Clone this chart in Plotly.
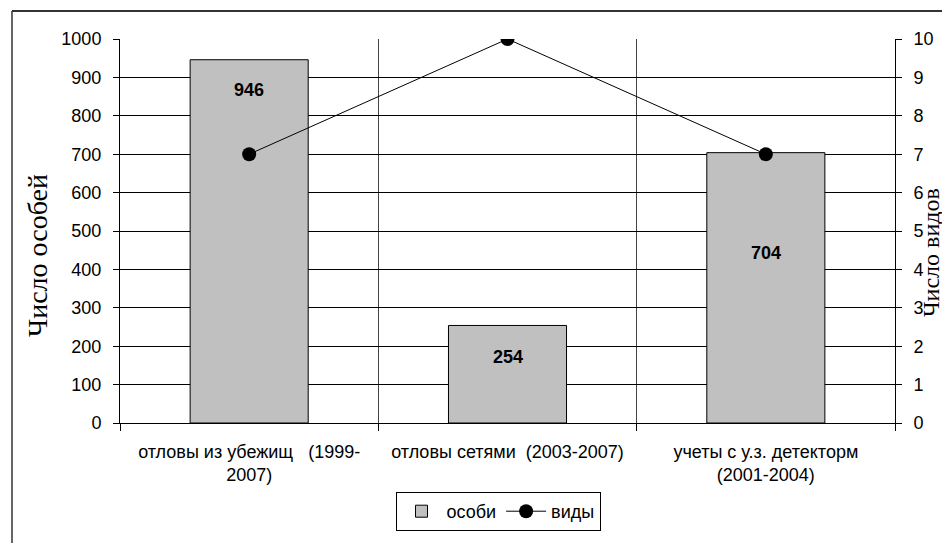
import plotly.graph_objects as go

categories = ["отловы из убежищ   (1999-<br>2007)", "отловы сетями  (2003-2007)", "учеты с у.з. детекторм<br>(2001-2004)"]
individuals = [946, 254, 704]
species = [7, 10, 7]
label_y = [867, 172, 443]

# the page body has an 8px margin, so the figure is placed at (8, 8)
W, H = 942, 535
L, T, PW, PH = 112, 31, 775, 384

def px(x):
    return (x - 8 - L) / PW

def py(y):
    return (T + PH - (y - 8)) / PH

fig = go.Figure()
fig.add_trace(go.Bar(x=categories, y=individuals, name="особи", width=0.457,
                     marker=dict(color="#c0c0c0", line=dict(color="black", width=1))))
fig.add_trace(go.Scatter(x=categories, y=species, name="виды", yaxis="y2", mode="lines+markers",
                         line=dict(color="black", width=1), marker=dict(color="black", size=14)))

for c, v, ly in zip(categories, individuals, label_y):
    fig.add_annotation(x=c, y=ly, text=f"<b>{v}</b>", showarrow=False,
                       font=dict(family="Liberation Sans, Arial", size=18, color="black"))

fig.add_annotation(xref="paper", yref="paper", x=px(37), y=py(256), text="Число особей",
                   textangle=-90, showarrow=False, xanchor="center", yanchor="middle",
                   font=dict(family="Liberation Serif, Times New Roman", size=28, color="black"))
fig.add_annotation(xref="paper", yref="paper", x=px(931), y=py(253), text="Число видов",
                   textangle=-90, showarrow=False, xanchor="center", yanchor="middle",
                   font=dict(family="Liberation Serif, Times New Roman", size=24, color="black"))

# outer frame
fig.add_shape(type="line", xref="paper", yref="paper", x0=px(12), x1=px(960),
              y0=py(11), y1=py(11), line=dict(color="#333333", width=2))
fig.add_shape(type="line", xref="paper", yref="paper", x0=px(12), x1=px(12),
              y0=py(11), y1=py(560), line=dict(color="#333333", width=1.5))

fig.update_layout(
    width=W, height=H,
    margin=dict(l=L, r=W - L - PW, t=T, b=H - T - PH),
    paper_bgcolor="white", plot_bgcolor="white",
    font=dict(family="Liberation Sans, Arial", size=18, color="black"),
    showlegend=True,
    legend=dict(orientation="h", x=px(498), xanchor="center", y=py(492), yanchor="top",
                bordercolor="black", borderwidth=1, font=dict(size=18),
                itemwidth=40, traceorder="normal"),
    xaxis=dict(type="category", showline=True, linecolor="black", linewidth=1,
               tickson="boundaries", ticks="outside", ticklen=7, tickcolor="black",
               showgrid=True, gridcolor="#444444", gridwidth=1, ticklabelstandoff=12,
               mirror=False),
    yaxis=dict(range=[0, 1000], dtick=100, showline=True, linecolor="black", linewidth=1,
               ticks="outside", ticklen=6, tickcolor="black", showgrid=True, gridcolor="black",
               gridwidth=1, zeroline=False, ticklabelstandoff=8),
    yaxis2=dict(range=[0, 10], dtick=1, overlaying="y", side="right", showline=True,
                linecolor="black", linewidth=1, ticks="outside", ticklen=6, tickcolor="black",
                showgrid=False, zeroline=False, ticklabelstandoff=8),
)

fig.write_html("out.html")
